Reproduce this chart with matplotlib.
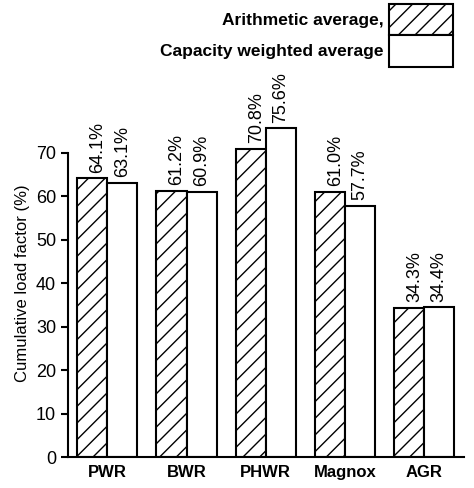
import matplotlib.pyplot as plt
import numpy as np
from matplotlib.patches import Patch

plt.rcParams['font.family'] = ['Liberation Sans', 'DejaVu Sans']
plt.rcParams['hatch.linewidth'] = 1.0

# data
reactors = ['PWR', 'BWR', 'PHWR', 'Magnox', 'AGR']
arith_avg = [64.1, 61.2, 70.8, 61.0, 34.3]
cap_weighted = [63.1, 60.9, 75.6, 57.7, 34.4]

fig = plt.figure(figsize=(4.74, 4.88), dpi=100)
ax = fig.add_axes([0.143, 0.0635, 0.835, 0.713])

x = np.arange(len(reactors))
w = 0.38
b1 = ax.bar(x - w / 2, arith_avg, w, color='white', edgecolor='black',
            hatch='//', linewidth=1.5)
b2 = ax.bar(x + w / 2, cap_weighted, w, color='white', edgecolor='black',
            linewidth=1.5)

# value labels, rotated
for xi, v in zip(x - w / 2, arith_avg):
    ax.text(xi + 0.07, v + 1.3, '{:.1f}%'.format(v), rotation=90,
            ha='center', va='bottom', fontsize=13)
for xi, v in zip(x + w / 2, cap_weighted):
    ax.text(xi, v + 1.3, '{:.1f}%'.format(v), rotation=90,
            ha='center', va='bottom', fontsize=13)

ax.set_xlim(-0.5, 4.5)
ax.set_ylim(0, 80)
ax.set_yticks(range(0, 80, 10))
ax.set_xticks(x)
ax.set_xticklabels(reactors, fontweight='bold', fontsize=12)
ax.tick_params(axis='x', length=0, pad=6)
ax.tick_params(axis='y', labelsize=13, width=1.5, length=5)
ax.set_ylabel('Cumulative load factor (%)', fontsize=12)
ax.spines['top'].set_visible(False)
ax.spines['right'].set_visible(False)
ax.spines['left'].set_linewidth(1.5)
ax.spines['left'].set_bounds(0, 70)
ax.spines['bottom'].set_linewidth(1.5)

handles = [Patch(facecolor='white', edgecolor='black', hatch='//', linewidth=1.5),
           Patch(facecolor='white', edgecolor='black', linewidth=1.5)]
leg = fig.legend(handles, ['Arithmetic average,', 'Capacity weighted average'],
                 loc='upper right', bbox_to_anchor=(453 / 474, 1 - 4 / 488),
                 frameon=False, borderpad=0, borderaxespad=0,
                 markerfirst=False, handlelength=3.7, handleheight=2.4,
                 labelspacing=0, handletextpad=0.3,
                 prop={'weight': 'bold', 'size': 12.5})

plt.savefig('out.png', dpi=100)
